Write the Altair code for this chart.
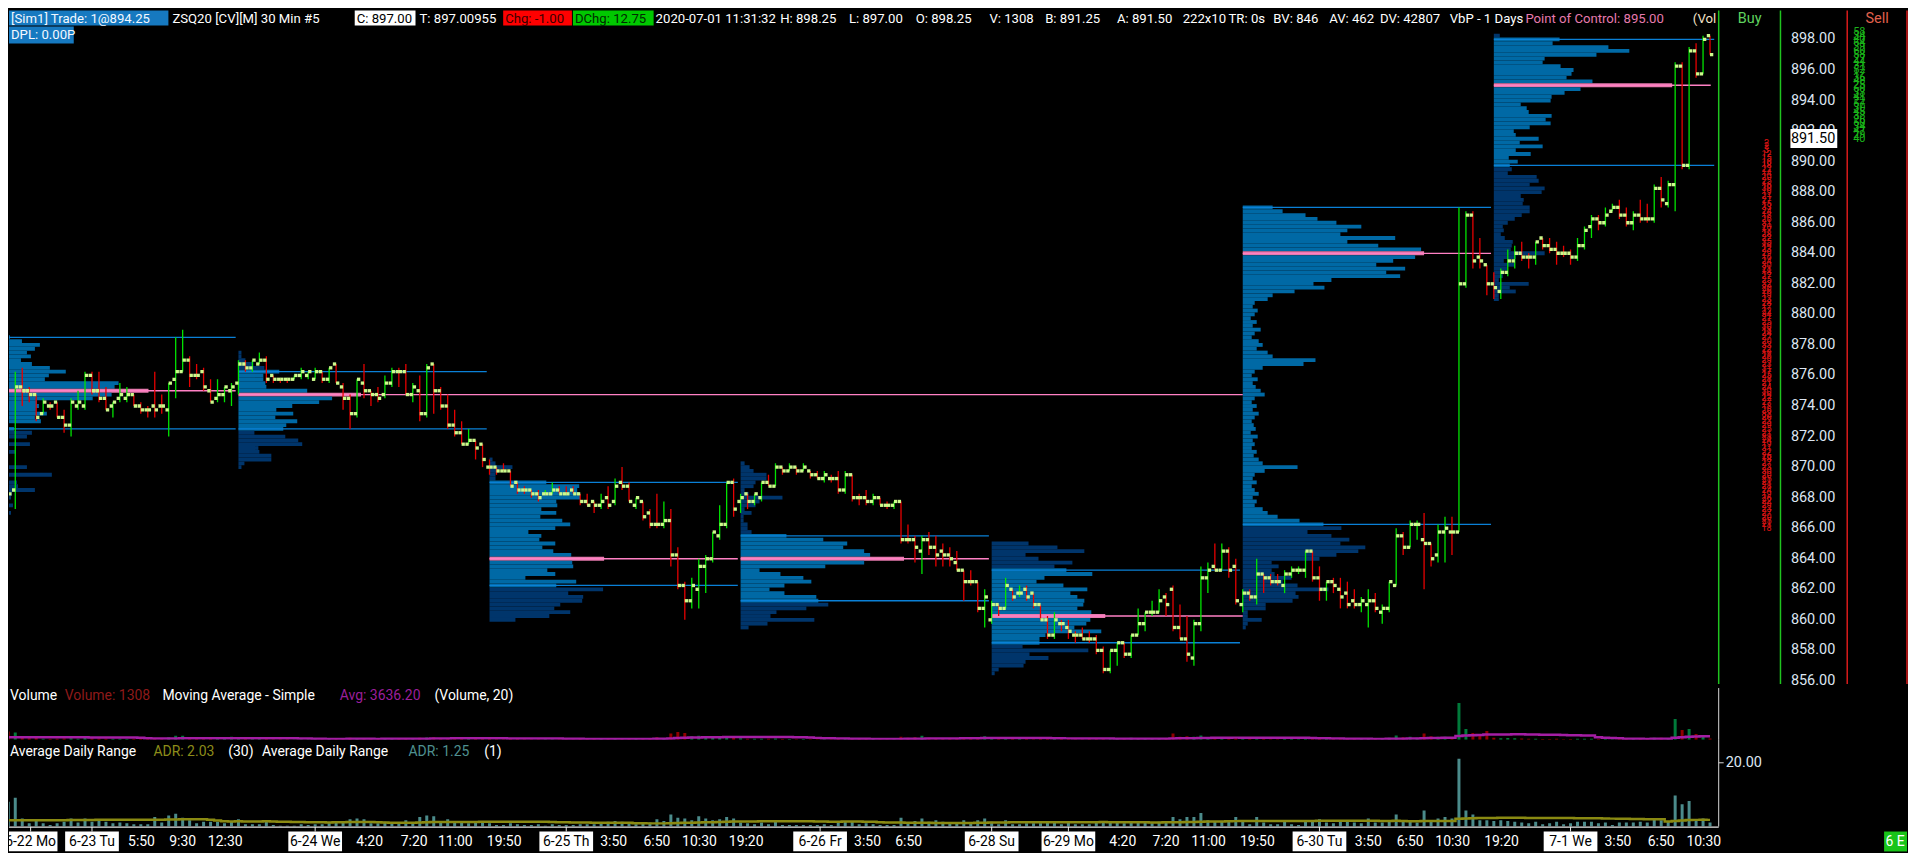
import altair as alt
import pandas as pd

# ---------------- OHLC of each 30-min bar (index 0..244) ----------------
O = [872.75, 868.5, 875.25, 875.0, 874.75, 873.5, 874.0, 874.25, 873.25, 872.75, 874.0, 874.0, 876.0, 875.0, 874.5, 874.0, 874.5, 874.5, 874.75, 874.0, 873.75, 874.0, 874.0, 873.75, 875.75, 876.25, 877.0, 876.0, 876.25, 875.0, 874.5, 874.75, 875.0,
     875.5, 876.75, 876.5, 876.75, 877.0, 876.0, 875.75, 875.75, 875.75, 876.0, 876.0, 875.75, 876.25, 875.75, 876.75, 875.25, 874.5, 873.5, 875.5, 875.0, 874.75, 874.75, 875.5, 876.25, 876.25, 874.75, 875.0, 873.5, 876.75, 875.0, 874.0, 872.75, 872.25, 871.5, 871.75, 871.5,
     870.0, 870.0, 869.75, 869.75, 869.0, 868.5, 868.5, 868.25, 868.25, 868.25, 868.5, 868.25, 868.5, 868.25, 867.75, 867.75, 867.5, 868.0, 867.75, 869.0, 868.75, 867.5, 867.75, 867.0, 866.25, 866.25, 866.5, 864.25, 862.25, 861.25, 862.0, 863.5, 864.0, 865.5, 866.25, 869.0,
     867.75, 868.25, 867.75, 868.0, 869.0, 868.75, 870.0, 869.75, 870.0, 869.75, 869.75, 869.5, 869.25, 869.25, 869.25, 868.5, 869.5, 868.0, 868.0, 867.75, 868.0, 867.5, 867.5, 867.75, 865.25, 865.25, 864.5, 865.25, 864.75, 864.5, 864.25, 863.75, 863.25, 862.5, 862.5, 860.75,
     860.0, 861.0, 860.75, 862.0, 861.75, 862.0, 861.75, 861.0, 860.0, 859.0, 859.75, 859.5, 859.0, 859.0, 858.75, 858.75, 858.0, 856.75, 858.0, 858.5, 857.75, 859.0, 859.75, 860.5, 860.5, 861.5, 862.0, 859.5, 858.75, 857.5, 859.75, 862.75, 863.5, 863.25, 864.5, 863.5,
     861.0, 861.75, 861.5, 863.0, 862.75, 862.5, 862.25, 863.0, 863.25, 863.25, 864.5, 862.75, 862.0, 862.5, 862.0, 861.75, 861.25, 861.0, 861.0, 861.25, 860.5, 860.75, 862.25, 865.5, 864.75, 866.25, 865.25, 865.0, 864.25, 865.75, 865.75, 865.75, 882.0, 886.5, 883.75, 883.25,
     882.0, 881.5, 882.75, 883.5, 884.0, 883.75, 883.75, 885.0, 884.5, 884.25, 884.0, 884.0, 883.75, 884.5, 885.75, 886.25, 886.0, 886.75, 887.0, 886.5, 886.0, 886.5, 886.25, 886.25, 888.25, 887.25, 888.5, 896.25, 889.75, 897.25, 895.75, 898.25]
H = [872.75, 876.25, 876.5, 875.25, 874.75, 874.5, 874.25, 874.25, 873.75, 874.5, 875.0, 876.25, 876.25, 876.25, 875.25, 874.25, 875.5, 875.25, 874.75, 874.25, 874.0, 876.25, 874.75, 875.5, 878.5, 879.0, 877.25, 876.75, 876.5, 875.75, 875.75, 875.25, 875.5,
     877.0, 877.0, 877.0, 877.5, 877.25, 876.0, 875.75, 875.75, 876.0, 876.5, 876.25, 876.5, 876.25, 876.5, 876.75, 875.5, 874.75, 875.75, 876.75, 875.0, 875.25, 876.0, 876.5, 876.5, 876.75, 875.5, 876.0, 876.75, 876.75, 875.25, 874.75, 873.75, 873.0, 872.5, 871.75, 871.5,
     870.5, 870.0, 870.25, 869.75, 869.0, 868.75, 868.5, 868.5, 868.5, 869.0, 868.75, 868.75, 868.75, 868.25, 868.25, 867.75, 868.25, 868.75, 869.25, 870.0, 869.0, 868.0, 867.75, 867.25, 868.25, 867.75, 867.25, 864.75, 862.5, 862.75, 864.0, 864.25, 865.75, 867.5, 869.0, 869.25,
     868.25, 868.25, 868.25, 869.0, 869.5, 870.25, 870.0, 870.25, 870.0, 870.25, 869.75, 869.75, 869.75, 869.5, 869.75, 869.75, 869.5, 868.25, 868.5, 868.25, 868.0, 867.75, 867.75, 867.75, 866.25, 865.5, 865.5, 865.75, 865.5, 865.0, 864.75, 864.5, 863.25, 863.25, 862.5, 862.0,
     861.25, 861.0, 862.75, 862.0, 862.25, 862.25, 861.75, 861.0, 860.25, 860.5, 860.0, 860.0, 859.25, 859.5, 859.25, 859.0, 858.25, 858.0, 858.5, 858.5, 859.0, 860.75, 860.5, 861.25, 862.0, 861.75, 862.25, 861.0, 860.25, 860.0, 863.5, 863.75, 865.0, 865.0, 864.75, 864.0,
     862.0, 862.0, 864.0, 863.0, 863.0, 863.0, 863.25, 863.5, 863.5, 864.5, 864.5, 863.5, 862.5, 862.75, 862.75, 862.5, 862.0, 861.5, 862.0, 861.75, 861.0, 862.5, 866.0, 865.75, 866.5, 866.5, 867.0, 865.0, 866.25, 866.75, 866.75, 887.0, 886.75, 886.75, 885.0, 883.25,
     882.75, 883.0, 884.25, 884.5, 884.75, 884.0, 884.75, 885.0, 885.0, 884.75, 884.5, 884.25, 885.0, 885.75, 886.5, 886.5, 887.0, 887.25, 887.5, 887.0, 886.75, 887.5, 887.25, 888.5, 889.0, 888.75, 896.5, 896.5, 897.5, 897.75, 898.25, 898.25]
L = [865.0, 867.25, 874.0, 874.25, 873.0, 873.5, 873.75, 873.25, 872.25, 872.0, 873.75, 873.75, 874.75, 874.25, 873.75, 873.25, 874.25, 874.25, 874.0, 873.5, 873.25, 873.25, 873.5, 872.0, 874.5, 876.25, 875.25, 875.75, 875.0, 874.25, 874.25, 874.25, 874.0,
     874.75, 876.25, 876.25, 876.75, 875.5, 875.5, 875.5, 875.5, 875.75, 875.75, 875.75, 875.75, 875.5, 875.5, 875.5, 873.75, 872.5, 873.25, 874.5, 874.0, 874.25, 874.5, 875.25, 875.25, 874.75, 874.25, 873.0, 873.25, 873.5, 873.75, 872.5, 872.0, 871.5, 871.5, 870.5, 870.0,
     869.5, 869.5, 869.75, 868.75, 868.25, 868.25, 868.0, 867.75, 868.25, 868.25, 868.25, 868.25, 868.25, 867.5, 867.5, 867.0, 867.25, 867.25, 867.5, 868.5, 867.75, 867.25, 866.5, 866.0, 866.0, 866.0, 863.5, 862.0, 860.0, 860.75, 860.75, 861.75, 863.75, 865.25, 866.0, 866.75,
     867.0, 867.25, 867.5, 867.75, 868.75, 868.75, 869.5, 869.75, 869.5, 869.75, 869.25, 869.25, 869.0, 869.0, 868.25, 868.25, 867.75, 867.5, 867.5, 867.5, 867.5, 867.25, 867.25, 865.0, 865.0, 863.75, 863.0, 864.25, 863.5, 863.5, 863.5, 863.25, 861.25, 862.25, 860.5, 859.5,
     859.75, 860.25, 860.75, 861.25, 861.5, 861.25, 860.75, 860.0, 858.75, 858.75, 859.25, 858.75, 858.5, 858.75, 858.5, 857.75, 856.5, 856.5, 857.0, 857.5, 857.5, 859.0, 859.25, 860.25, 860.5, 860.25, 859.25, 858.75, 857.25, 857.0, 859.25, 861.75, 863.25, 863.25, 862.75, 861.0,
     860.5, 861.25, 861.0, 861.75, 862.25, 862.25, 861.75, 862.75, 863.0, 862.75, 862.5, 861.25, 861.25, 861.75, 860.75, 860.75, 860.75, 860.5, 859.5, 860.5, 859.75, 860.5, 862.25, 864.25, 864.75, 865.25, 862.0, 863.5, 863.75, 863.75, 864.25, 865.75, 881.75, 883.0, 883.0, 881.25,
     881.0, 881.0, 882.5, 883.0, 883.5, 883.0, 883.25, 884.25, 884.0, 883.25, 883.75, 883.25, 883.5, 884.25, 885.0, 885.5, 885.75, 886.75, 886.25, 885.75, 885.5, 886.0, 886.0, 886.0, 887.0, 887.0, 886.75, 889.5, 889.5, 895.5, 895.75, 897.0]
C = [868.25, 875.25, 875.0, 874.75, 873.25, 874.25, 874.0, 873.25, 872.75, 874.25, 874.25, 876.0, 875.0, 874.5, 873.75, 874.25, 874.75, 874.75, 874.0, 873.75, 873.75, 873.75, 874.0, 875.5, 876.25, 877.0, 876.0, 876.0, 875.25, 874.25, 874.75, 875.25, 875.25,
     876.75, 876.5, 877.0, 877.0, 875.75, 875.75, 875.75, 875.75, 876.0, 876.25, 876.25, 876.25, 875.75, 876.5, 875.5, 874.5, 873.5, 875.75, 875.0, 874.75, 874.5, 875.5, 876.25, 876.25, 874.75, 875.25, 873.5, 876.5, 875.0, 874.0, 872.75, 872.25, 871.5, 871.75, 871.25, 870.5,
     870.0, 869.75, 869.75, 868.75, 868.5, 868.5, 868.25, 868.0, 868.25, 868.5, 868.25, 868.25, 868.25, 867.75, 867.5, 867.5, 867.75, 867.5, 868.75, 868.75, 867.75, 868.0, 866.75, 866.25, 866.25, 866.5, 864.25, 862.25, 861.25, 862.25, 863.5, 864.0, 865.75, 866.25, 869.0, 867.25,
     868.0, 867.75, 868.25, 869.0, 868.75, 870.0, 869.75, 870.0, 869.75, 870.0, 869.5, 869.25, 869.5, 869.25, 868.5, 869.5, 868.0, 868.0, 867.75, 868.0, 867.5, 867.5, 867.75, 865.25, 865.25, 864.75, 865.25, 864.75, 864.25, 864.25, 864.0, 863.25, 862.5, 862.5, 860.75, 861.5,
     861.0, 860.75, 862.25, 861.5, 861.75, 861.5, 861.0, 860.0, 859.0, 860.0, 859.75, 859.25, 859.0, 858.75, 858.75, 858.0, 856.75, 858.0, 858.5, 857.75, 859.0, 859.75, 860.5, 860.5, 861.25, 861.0, 859.5, 858.75, 857.75, 859.75, 862.75, 863.25, 863.25, 864.5, 863.25, 861.25,
     861.75, 861.5, 863.0, 862.75, 862.5, 862.5, 863.0, 863.25, 863.25, 864.5, 862.75, 862.0, 862.5, 862.25, 861.5, 861.0, 861.0, 861.25, 861.25, 860.75, 860.75, 862.5, 865.5, 864.75, 866.25, 866.25, 865.0, 864.0, 865.75, 866.0, 865.75, 882.0, 886.5, 883.5, 883.5, 882.0,
     881.75, 882.75, 883.5, 884.0, 883.75, 883.75, 884.75, 884.5, 884.25, 884.0, 884.0, 883.75, 884.5, 885.5, 886.25, 886.0, 886.5, 887.0, 886.5, 886.0, 886.5, 886.25, 886.25, 888.25, 887.5, 888.5, 896.25, 889.75, 897.25, 895.75, 898.0, 897.0]
UP_TIES = [77, 145, 164, 185, 202]

VOL = [8500, 7500, 2200, 1500, 2000, 1200, 900, 1100, 1400, 1600,
       1200, 2000, 1600, 1400, 1200, 1000, 1100, 900, 800, 900,
       900, 1500, 1000, 2500, 4000, 4200, 2200, 1200, 1100, 1000,
       1000, 1100, 3200,
       1500, 1000, 900, 800, 1200, 700, 500, 500, 400, 600,
       500, 600, 700, 800, 900, 1500, 2000, 1800, 1400, 1600,
       1200, 1300, 1100, 1000, 1400, 900, 2200, 2400, 2600, 1800,
       1900, 1500, 1700, 1200, 1300, 2800,
       900, 700, 600, 1100, 900, 700, 600, 500, 600, 700,
       500, 500, 600, 900, 800, 900, 1000, 1200, 1500, 1800,
       1400, 1200, 1800, 1600, 2500, 1800, 6500, 8000, 7000, 3500,
       4000, 3000, 2800, 2500, 3000, 2500,
       1500, 1200, 1000, 1100, 1000, 1300, 900, 800, 700, 800,
       700, 600, 700, 600, 900, 1000, 1200, 1100, 900, 800,
       700, 600, 700, 3000, 2000, 2500, 4000, 2200, 1800, 1500,
       1200, 1600, 2500, 2000, 2200, 3500,
       1800, 1200, 2000, 1000, 800, 900, 700, 900, 1200, 1400,
       900, 800, 700, 700, 800, 900, 1500, 1600, 1200, 1000,
       2000, 1300, 1000, 1100, 1500, 1400, 6500, 3000, 3500, 3000,
       4500, 2500, 2000, 1800, 2500, 2000,
       1200, 900, 1500, 800, 700, 600, 900, 800, 700, 1100,
       1000, 1300, 900, 800, 1100, 1000, 900, 800, 1200, 1000,
       900, 2000, 4500, 2500, 3000, 2000, 6500, 3500, 3000, 3200, 2500,
       37000, 11000, 7000, 6000, 9000,
       2000, 1500, 1800, 1500, 1300, 1000, 1200, 900, 800, 1000,
       700, 800, 1000, 1100, 1200, 900, 1000, 700, 900, 800,
       900, 1000, 900, 2000, 2200, 1800,
       21000, 10000, 11000, 6000, 5000, 1308]

# indicator values at the left edge (their history lies before the first visible bar)
ADR_EARLY = [1.95, 2.0, 2.0, 2.0, 2.0, 2.0, 2.0, 2.0, 2.0, 2.05, 2.05, 2.05, 2.05, 2.1, 2.1, 2.1, 2.1, 2.1, 2.1,
             2.1, 2.1, 2.15, 2.15, 2.2, 2.2, 2.25, 2.25, 2.25, 2.25]
MA_EARLY = [2700, 2700, 2650, 2650, 2600, 2600, 2600, 2550, 2550, 2500, 2500, 2500, 2450, 2450, 2400, 2400, 2400,
            2350, 2350]

# ---------------- volume-by-price profiles (one per session) ----------------
SESS_START = [-0.9, 33, 69, 105, 141, 177, 213]
SESS_END = [32.6, 68.6, 104.6, 140.6, 176.6, 212.6, 244.6]
POC = [875.0, 874.75, 864.0, 864.0, 860.25, 884.0, 895.0]
POC_END = [32.6, 177.0, 104.6, 140.6, 177.0, 212.6, 244.1]
VAH = [878.5, 876.25, 869.0, 865.5, 863.25, 887.0, 898.0]
VAL = [872.5, 872.5, 862.25, 861.25, 858.5, 866.25, 889.75]
PROF_TOP = [878.75, 877.5, 870.5, 870.25, 865.0, 887.0, 898.25]
PROF_1 = [6, 8, 20, 38, 33, 25, 29, 19, 30, 48, 64, 47, 43, 117, 113, 147, 110, 91, 35, 37, 34, 45, 33, 39, 7, 12,
          30, 25, 5, 28, 5, 14, 2, 2, 2, 25, 1, 50, 6, 15, 16, 33, 10, 9, 1, 11, 3, 9]
PROF_2 = [3, 3, 7, 15, 26, 41, 25, 25, 27, 28, 69, 123, 94, 81, 54, 38, 55, 37, 59, 48, 45, 16, 47, 60, 64, 20, 21, 33, 33, 6, 3]
PROF_3 = [3, 6, 23, 9, 6, 6, 57, 90, 88, 90, 91, 67, 68, 52, 67, 51, 73, 81, 66, 39, 52, 50, 66, 53, 64, 82, 115,
          83, 84, 58, 66, 36, 87, 67, 114, 79, 94, 93, 71, 65, 81, 60, 26]
PROF_4 = [4, 9, 13, 26, 26, 15, 13, 4, 8, 42, 19, 15, 4, 11, 3, 3, 7, 7, 11, 46, 83, 107, 103, 124, 130, 164,
          124, 85, 19, 40, 63, 71, 44, 29, 44, 76, 78, 88, 66, 36, 30, 74, 27, 8]
PROF_5 = [37, 66, 93, 34, 47, 81, 63, 75, 101, 53, 45, 72, 96, 79, 86, 93, 92, 86, 100, 114, 99, 95, 83, 110, 54, 48,
          48, 31, 97, 38, 57, 34, 32, 7, 3]
PROF_6 = [30, 40, 63, 75, 94, 119, 105, 98, 153, 105, 136, 179, 182, 173, 151, 134, 163, 144, 158, 89, 71, 82, 52,
          30, 25, 12, 10, 15, 12, 8, 14, 10, 18, 12, 9, 16, 20, 14, 25, 30, 73, 61, 20, 12, 9, 15, 10, 13, 18, 22, 12, 9, 14,
          10, 16, 12, 9, 11, 13, 8, 15, 10, 12, 9, 14, 11, 16, 20, 55, 22, 12, 10, 14, 9, 12, 16, 10, 14, 12, 20, 25, 35,
          57, 81, 99, 65, 89, 107, 98, 123, 116, 94, 77, 29, 36, 29, 32, 49, 40, 55, 86, 53, 56, 50, 23, 23, 5, 5, 19, 5, 3]
PROF_7 = [6, 66, 59, 115, 136, 103, 51, 49, 67, 80, 78, 73, 99, 179, 87, 71, 58, 57, 27, 33, 35, 58, 52, 57, 36, 20,
          22, 45, 26, 49, 22, 37, 15, 24, 16, 18, 14, 43, 45, 36, 51, 48, 27, 30, 29, 36, 36, 28, 21, 14, 9, 10, 7, 11,
          19, 18, 17, 51, 22, 10, 21, 14, 10, 9, 5, 35, 16, 22, 5, 5]
PROFILES = [PROF_1, PROF_2, PROF_3, PROF_4, PROF_5, PROF_6, PROF_7]

# ---------------- depth of market (Buy / Sell columns) ----------------
BID_TOP = 891.25
BID_SIZES = [2, 2, 3, 12, 15, 10, 18, 22, 14, 20, 25, 16, 30, 19, 21, 27, 15, 33, 24, 18,
             26, 31, 20, 17, 28, 22, 35, 19, 23, 29, 16, 24, 30, 21, 18, 27, 25, 32, 20, 26,
             19, 23, 28, 17, 22, 34, 21, 25, 30, 18, 24, 27, 20, 33, 22, 19, 26, 29, 23, 31,
             17, 25, 28, 21, 24, 30, 19, 22, 27, 18, 26, 32, 20, 23, 29, 25, 21, 28, 24, 19,
             31, 22, 26, 18, 27, 23, 30, 20, 25, 21, 28, 24, 19, 26, 22, 29, 23, 27, 20, 25, 21, 18]
ASK_TOP = 898.5
ASK_SIZES = [58, 34, 40, 64, 39, 60, 58, 27, 44, 31, 52, 17, 36, 48, 25, 60, 33, 41, 22, 57, 30, 45, 38, 26, 50, 34,
             47, 29, 40]

# ---------------- axis labels ----------------
PRICE_TICKS = [898, 896, 894, 892, 890, 888, 886, 884, 882, 880, 878, 876, 874, 872, 870, 868, 866, 864, 862, 860, 858, 856]
LAST_PRICE = 891.50
DATE_LABELS = ["6-22 Mo", "6-23 Tu", "6-24 We", "6-25 Th", "6-26 Fr", "6-28 Su", "6-29 Mo", "6-30 Tu", "7-1 We"]
DATE_POS = [3.2, 12.0, 44.0, 80.0, 116.4, 141.0, 152.0, 188.0, 224.0]
TIME_LABELS = ["5:50", "9:30", "12:30", "4:20", "7:20", "11:00", "19:50", "3:50", "6:50", "10:30", "19:20", "3:50",
               "6:50", "4:20", "7:20", "11:00", "19:50", "3:50", "6:50", "10:30", "19:20", "3:50", "6:50", "10:30"]
TIME_POS = [19.1, 25.0, 31.1, 51.8, 58.2, 64.1, 71.1, 86.8, 93.0, 99.1, 105.8, 123.2, 129.1, 159.8, 166.0, 172.1,
            179.1, 195.0, 201.0, 207.1, 214.1, 230.8, 237.0, 243.1]

# ---------------- styling ----------------
FONT = "Roboto"
UP, DN, SQ = "#00e400", "#e60000", "#cdf98c"
VA_IN, VA_OUT, POC_COL, POC_LINE, VA_LINE = "#0069a5", "#00356b", "#e67aae", "#ff80c4", "#0a80d6"
W = 1906
XS = alt.Scale(domain=[0.1, 272.386], nice=False, zero=False)
YS = alt.Scale(domain=[855.534, 899.892], nice=False, zero=False)

# ---------------- tables ----------------
cd = pd.DataFrame({"i": list(range(len(C))), "o": O, "h": H, "l": L, "c": C, "v": VOL})
cd["up"] = (cd["c"] > cd["o"]) | cd["i"].isin(UP_TIES)
cd["col"] = cd["up"].map({True: UP, False: DN})
cd["vcol"] = cd["up"].map({True: "#007a3a", False: "#8e0000"})
cd["rng"] = cd["h"] - cd["l"]
cd["adr"] = cd["rng"].rolling(30, min_periods=1).mean()
cd.loc[:len(ADR_EARLY) - 1, "adr"] = ADR_EARLY
cd["ma"] = cd["v"].rolling(20, min_periods=1).mean()
cd.loc[:len(MA_EARLY) - 1, "ma"] = MA_EARLY

rows = []
for k, lens in enumerate(PROFILES):
    for j, ln in enumerate(lens):
        p = PROF_TOP[k] - 0.25 * j
        if p == POC[k]:
            col = POC_COL
        elif VAL[k] <= p <= VAH[k]:
            col = VA_IN
        else:
            col = VA_OUT
        rows.append({"x": SESS_START[k], "x2": SESS_START[k] + ln / 7.0, "y": p + 0.125, "y2": p - 0.125, "col": col})
prof = pd.DataFrame(rows)

lines = []
for k in range(7):
    lines.append({"x": SESS_START[k], "x2": SESS_END[k], "y": VAH[k], "col": VA_LINE})
    lines.append({"x": SESS_START[k], "x2": SESS_END[k], "y": VAL[k], "col": VA_LINE})
    lines.append({"x": SESS_START[k], "x2": POC_END[k], "y": POC[k], "col": POC_LINE})
lns = pd.DataFrame(lines)

bids = pd.DataFrame({"p": [BID_TOP - 0.25 * j for j in range(len(BID_SIZES))], "t": [str(v) for v in BID_SIZES]})
asks = pd.DataFrame({"p": [ASK_TOP - 0.25 * j for j in range(len(ASK_SIZES))], "t": [str(v) for v in ASK_SIZES]})

X = alt.X("i:Q", scale=XS, axis=None)

# ---------------- price panel ----------------
base_p = alt.Chart(cd)
prof_l = alt.Chart(prof).mark_rect(clip=True).encode(
    x=alt.X("x:Q", scale=XS, axis=None), x2="x2:Q",
    y=alt.Y("y:Q", scale=YS, axis=None), y2="y2:Q",
    color=alt.Color("col:N", scale=None))
line_l = alt.Chart(lns).mark_rule(clip=True, strokeWidth=1.3).encode(
    x=alt.X("x:Q", scale=XS, axis=None), x2="x2:Q",
    y=alt.Y("y:Q", scale=YS, axis=None), color=alt.Color("col:N", scale=None))
wick = base_p.mark_rule(clip=True, strokeWidth=1.3).encode(
    x=X, y=alt.Y("l:Q", scale=YS, axis=None), y2="h:Q", color=alt.Color("col:N", scale=None))
sq_o = base_p.mark_square(clip=True, size=11, xOffset=-1.6, opacity=1, color=SQ).encode(
    x=X, y=alt.Y("o:Q", scale=YS, axis=None))
sq_c = base_p.mark_square(clip=True, size=11, xOffset=1.6, opacity=1, color=SQ).encode(
    x=X, y=alt.Y("c:Q", scale=YS, axis=None))

vrules = pd.DataFrame({"px": [1716, 1778, 1845, 1905], "col": ["#1fc41f", "#1fc41f", "#d81b1b", "#d81b1b"]})
col_lines = alt.Chart(vrules).mark_rule(strokeWidth=1.5).encode(
    x=alt.X("px:Q", scale=None), y=alt.value(0), y2=alt.value(676), color=alt.Color("col:N", scale=None))

bid_t = alt.Chart(bids).mark_text(align="center", baseline="middle", font=FONT, fontSize=9,
                                  color="#e01414").encode(
    x=alt.value(1764), y=alt.Y("p:Q", scale=YS, axis=None), text="t:N")
ask_t = alt.Chart(asks).mark_text(align="left", baseline="middle", font=FONT, fontSize=11,
                                  color="#1ab41a").encode(
    x=alt.value(1851), y=alt.Y("p:Q", scale=YS, axis=None), text="t:N")

ticks_df = pd.DataFrame({"p": PRICE_TICKS, "t": ["%.2f" % v for v in PRICE_TICKS]})
price_lbl = alt.Chart(ticks_df).mark_text(align="right", baseline="middle", font=FONT, fontSize=14.5,
                                          color="#dde6f2", clip=True).encode(
    x=alt.value(1833), y=alt.Y("p:Q", scale=YS, axis=None), text="t:N")
last_df = pd.DataFrame({"p": [LAST_PRICE], "t": ["%.2f" % LAST_PRICE]})
last_box = alt.Chart(last_df).mark_rect(color="#ffffff").encode(
    x=alt.value(1788), x2=alt.value(1835), y=alt.value(119), y2=alt.value(138))
last_txt = alt.Chart(last_df).mark_text(align="right", baseline="middle", font=FONT, fontSize=14.5,
                                        color="#000000").encode(
    x=alt.value(1833), y=alt.Y("p:Q", scale=YS, axis=None), text="t:N")

bs_df = pd.DataFrame({"t": ["Buy", "Sell"], "px": [1747, 1875], "col": ["#5fd35f", "#e0604c"]})
bs_txt = alt.Chart(bs_df).mark_text(align="center", baseline="middle", font=FONT, fontSize=14.5).encode(
    x=alt.X("px:Q", scale=None), y=alt.value(9), text="t:N", color=alt.Color("col:N", scale=None))

# header
hdr_boxes = pd.DataFrame({
    "x0": [0, 347, 496, 566, 0], "x1": [160, 408, 565, 647, 65],
    "y0": [0, 0, 0, 0, 16], "y1": [15, 15, 15, 15, 33],
    "col": ["#1679c0", "#ffffff", "#ff0000", "#00c800", "#1679c0"]})
hdr_box = alt.Chart(hdr_boxes).mark_rect().encode(
    x=alt.X("x0:Q", scale=None), x2="x1:Q", y=alt.Y("y0:Q", scale=None), y2="y1:Q",
    color=alt.Color("col:N", scale=None))
hdr_t = pd.DataFrame({
    "t": ["[Sim1]  Trade: 1@894.25", "ZSQ20 [CV][M]  30 Min   #5", "C: 897.00", "T: 897.00955", "Chg: -1.00",
          "DChg: 12.75", "2020-07-01 11:31:32", "H: 898.25", "L: 897.00", "O: 898.25", "V: 1308", "B: 891.25",
          "A: 891.50", "222x10", "TR: 0s", "BV: 846", "AV: 462", "DV: 42807", "VbP - 1 Days",
          "Point of Control: 895.00", "(Vol", "DPL: 0.00P"],
    "px": [2, 164, 349, 412, 498, 568, 649, 774, 843, 910, 984, 1040, 1112, 1178, 1224, 1269, 1325, 1376, 1446,
           1522, 1690, 2],
    "py": [8] * 21 + [25],
    "col": ["#f2f8ff", "#ffffff", "#000000", "#ffffff", "#3a0000", "#002a00"] + ["#ffffff"] * 13 +
           ["#e67aae", "#f3e3c8", "#f2f8ff"]})
hdr_txt = alt.Chart(hdr_t).mark_text(align="left", baseline="middle", font=FONT, fontSize=13.2).encode(
    x=alt.X("px:Q", scale=None), y=alt.Y("py:Q", scale=None), text="t:N", color=alt.Color("col:N", scale=None))

price = alt.layer(prof_l, line_l, wick, sq_o, sq_c, col_lines, bid_t, ask_t, price_lbl, last_box, last_txt,
                  bs_txt, hdr_box, hdr_txt).properties(width=W, height=680)

# ---------------- volume panel ----------------
VS = alt.Scale(domain=[0, 52000], nice=False)
vbar = alt.Chart(cd).mark_rule(strokeWidth=3, clip=True).encode(
    x=X, y=alt.Y("v:Q", scale=VS, axis=None), y2=alt.value(52), color=alt.Color("vcol:N", scale=None))
vma = alt.Chart(cd).mark_line(color="#a41ea4", strokeWidth=2.5, interpolate="step", clip=True).encode(
    x=X, y=alt.Y("ma:Q", scale=VS, axis=None))
vleg = pd.DataFrame({"t": ["Volume", "Volume: 1308", "Moving Average - Simple", "Avg: 3636.20", "(Volume, 20)"],
                     "px": [1, 56, 154, 332, 427],
                     "col": ["#ffffff", "#8e1a1a", "#ffffff", "#9c1f9c", "#ffffff"]})
vleg_t = alt.Chart(vleg).mark_text(align="left", baseline="middle", font=FONT, fontSize=14).encode(
    x=alt.X("px:Q", scale=None), y=alt.value(8), text="t:N", color=alt.Color("col:N", scale=None))
vedge = alt.Chart(pd.DataFrame({"a": [0]})).mark_rule(color="#d8d8d8", strokeWidth=1).encode(
    x=alt.value(1716), y=alt.value(0), y2=alt.value(52))
vol = alt.layer(vbar, vma, vleg_t, vedge).properties(width=W, height=52)

# ---------------- ADR panel ----------------
AS = alt.Scale(domain=[0, 27.19], nice=False)
abar = alt.Chart(cd).mark_rule(strokeWidth=3, clip=True, color="#4b8b8b").encode(
    x=X, y=alt.Y("rng:Q", scale=AS, axis=None), y2=alt.value(87))
aline = alt.Chart(cd).mark_line(color="#8a8a12", strokeWidth=2.5, interpolate="step", clip=True).encode(
    x=X, y=alt.Y("adr:Q", scale=AS, axis=None))
aleg = pd.DataFrame({"t": ["Average Daily Range", "ADR: 2.03", "(30)", "Average Daily Range", "ADR: 1.25", "(1)"],
                     "px": [1, 145, 220, 254, 401, 477],
                     "col": ["#ffffff", "#8c8c1a", "#ffffff", "#ffffff", "#4f9090", "#ffffff"]})
aleg_t = alt.Chart(aleg).mark_text(align="left", baseline="middle", font=FONT, fontSize=14).encode(
    x=alt.X("px:Q", scale=None), y=alt.value(12), text="t:N", color=alt.Color("col:N", scale=None))
adr_tick = pd.DataFrame({"v": [20.0], "t": ["20.00"]})
aedge = alt.Chart(adr_tick).mark_rule(color="#d8d8d8", strokeWidth=1).encode(
    x=alt.value(1716), y=alt.value(0), y2=alt.value(87))
atick = alt.Chart(adr_tick).mark_rule(color="#d8d8d8", strokeWidth=1).encode(
    x=alt.value(1716), x2=alt.value(1721), y=alt.Y("v:Q", scale=AS, axis=None))
atick_t = alt.Chart(adr_tick).mark_text(align="left", baseline="middle", font=FONT, fontSize=14.5,
                                        color="#dde6f2").encode(
    x=alt.value(1723), y=alt.Y("v:Q", scale=AS, axis=None), text="t:N")
adr = alt.layer(abar, aline, aleg_t, aedge, atick, atick_t).properties(width=W, height=87)

# ---------------- time axis ----------------
dd = pd.DataFrame({"t": DATE_LABELS, "pos": DATE_POS})
dd["a"] = dd["pos"] - 3.85
dd["b"] = dd["pos"] + 3.85
td = pd.DataFrame({"t": TIME_LABELS, "pos": TIME_POS})
ax_line = alt.Chart(pd.DataFrame({"a": [0]})).mark_rule(color="#e8e8e8", strokeWidth=1.2).encode(
    x=alt.value(0), x2=alt.value(1716), y=alt.value(0.6))
d_tick = alt.Chart(dd).mark_rule(color="#e8e8e8", clip=True).encode(
    x=alt.X("pos:Q", scale=XS, axis=None), y=alt.value(0), y2=alt.value(5))
d_box = alt.Chart(dd).mark_rect(color="#ffffff", clip=True).encode(
    x=alt.X("a:Q", scale=XS, axis=None), x2="b:Q", y=alt.value(5), y2=alt.value(25))
d_txt = alt.Chart(dd).mark_text(font=FONT, fontSize=14, color="#000000", baseline="middle", clip=True).encode(
    x=alt.X("pos:Q", scale=XS, axis=None), y=alt.value(16), text="t:N")
t_txt = alt.Chart(td).mark_text(font=FONT, fontSize=14, color="#ffffff", baseline="middle", clip=True).encode(
    x=alt.X("pos:Q", scale=XS, axis=None), y=alt.value(16), text="t:N")
e_box = alt.Chart(pd.DataFrame({"t": ["6 E"]})).mark_rect(color="#19c419").encode(
    x=alt.value(1882), x2=alt.value(1905), y=alt.value(5), y2=alt.value(25))
e_txt = alt.Chart(pd.DataFrame({"t": ["6 E"]})).mark_text(font=FONT, fontSize=14, color="#ffffff",
                                                       baseline="middle").encode(
    x=alt.value(1893), y=alt.value(16), text="t:N")
xax = alt.layer(ax_line, d_tick, d_box, d_txt, t_txt, e_box, e_txt).properties(width=W, height=25)

chart = alt.vconcat(price, vol, adr, xax, spacing=0, bounds="flush").configure_view(
    strokeWidth=0).properties(background="#000000", padding=0)

chart.save("out.html", embed_options={"renderer": "svg", "actions": False})
